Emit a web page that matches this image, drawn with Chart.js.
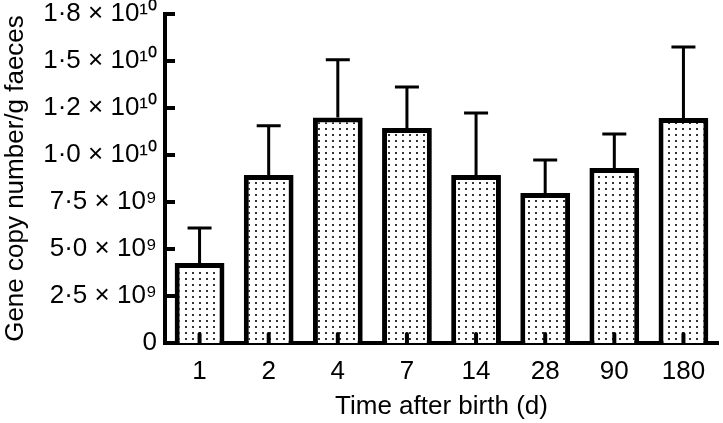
<!DOCTYPE html>
<html>
<head>
<meta charset="utf-8">
<script src="https://cdn.jsdelivr.net/npm/chart.js@4"></script>
<style>
  body { margin: 0; background: #fff; }
</style>
</head>
<body>
<canvas id="geneChart" width="723" height="423"></canvas>
<script>
// values
const categories = ['1', '2', '4', '7', '14', '28', '90', '180'];
const means = [4.26e9, 8.94e9, 1.20e10, 1.144e10, 8.94e9, 7.98e9, 9.31e9, 1.197e10];
const sds = [1.86e9, 2.61e9, 3.06e9, 2.18e9, 3.30e9, 1.76e9, 1.81e9, 3.78e9];
const yTickLabels = ['0', '2·5 × 10⁹', '5·0 × 10⁹', '7·5 × 10⁹', '1·0 × 10¹⁰', '1·2 × 10¹⁰', '1·5 × 10¹⁰', '1·8 × 10¹⁰'];

const FONT = "'Liberation Sans', Arial, sans-serif";

function dotPattern() {
  const c = document.createElement('canvas');
  c.width = 7;
  c.height = 6;
  const g = c.getContext('2d');
  g.fillStyle = '#fff';
  g.fillRect(0, 0, 7, 6);
  g.fillStyle = '#333';
  g.fillRect(3, 2, 2, 2);
  return g.createPattern(c, 'repeat');
}

// error bars (upper only), positioned from the bar elements and y scale
const errorBars = {
  id: 'errorBars',
  afterDatasetsDraw(chart) {
    const ctx = chart.ctx;
    const y = chart.scales.y;
    const bars = chart.getDatasetMeta(0).data;
    ctx.save();
    ctx.strokeStyle = '#000';
    ctx.lineWidth = 3;
    bars.forEach((bar, i) => {
      const top = y.getPixelForValue(means[i]);
      const up = y.getPixelForValue(means[i] + sds[i]);
      ctx.beginPath();
      ctx.moveTo(bar.x, top);
      ctx.lineTo(bar.x, up);
      ctx.moveTo(bar.x - 12, up);
      ctx.lineTo(bar.x + 12, up);
      ctx.stroke();
    });
    ctx.restore();
  }
};

// tick marks pointing into the plot
const innerTicks = {
  id: 'innerTicks',
  afterDraw(chart) {
    const ctx = chart.ctx;
    const area = chart.chartArea;
    const x = chart.scales.x, y = chart.scales.y;
    ctx.save();
    ctx.strokeStyle = '#000';
    ctx.lineWidth = 4;
    y.ticks.forEach((t, i) => {
      const py = y.getPixelForTick(i);
      ctx.beginPath();
      ctx.moveTo(area.left, py);
      ctx.lineTo(area.left + 10, py);
      ctx.stroke();
    });
    ctx.lineCap = 'round';
    x.ticks.forEach((t, i) => {
      const px = x.getPixelForTick(i);
      ctx.beginPath();
      ctx.moveTo(px, area.bottom);
      ctx.lineTo(px, area.bottom - 9);
      ctx.stroke();
    });
    ctx.restore();
  }
};

new Chart(document.getElementById('geneChart'), {
  type: 'bar',
  data: {
    labels: categories,
    datasets: [{
      data: means,
      backgroundColor: dotPattern(),
      borderColor: '#000',
      borderWidth: 5,
      barPercentage: 0.72,
      categoryPercentage: 1
    }]
  },
  options: {
    responsive: false,
    animation: false,
    layout: { padding: { top: 14, right: 5, bottom: 0, left: 0 } },
    plugins: {
      legend: { display: false },
      tooltip: { enabled: false }
    },
    scales: {
      x: {
        z: 1,
        grid: { display: false, drawTicks: false },
        border: { display: true, color: '#000', width: 4 },
        ticks: { color: '#000', padding: 13, font: { family: FONT, size: 26 } },
        title: {
          display: true,
          text: 'Time after birth (d)',
          color: '#000',
          padding: { top: 0, bottom: 1 },
          font: { family: FONT, size: 26 }
        },
        afterFit(scale) { scale.height = 80; }
      },
      y: {
        z: 1,
        min: 0,
        max: 1.75e10,
        grid: { display: false, drawTicks: false },
        border: { display: true, color: '#000', width: 4 },
        ticks: {
          stepSize: 2.5e9,
          color: '#000',
          padding: 8,
          font: { family: FONT, size: 26 },
          callback: (v, i) => yTickLabels[i]
        },
        title: {
          display: true,
          text: 'Gene copy number/g faeces',
          color: '#000',
          padding: { top: 0, bottom: 0 },
          font: { family: FONT, size: 26 }
        },
        afterFit(scale) {
          scale.width = 165;
          scale.paddingTop = 0;
          scale.paddingBottom = 0;
        }
      }
    }
  },
  plugins: [errorBars, innerTicks]
});
</script>
</body>
</html>
